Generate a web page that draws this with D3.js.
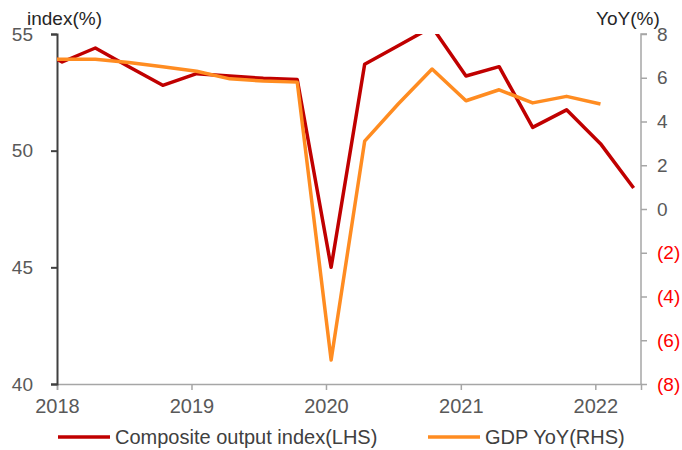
<!DOCTYPE html>
<html>
<head>
<meta charset="utf-8">
<script src="https://cdn.jsdelivr.net/npm/d3@7"></script>
<style>
	body { margin: 0; background: #fff; }
	svg { font-family: 'Liberation Sans', Arial, sans-serif; }
</style>
</head>
<body>
<div id="chart"></div>
<script>
// quarterly observations (mid-month of each quarter's first month)
const quarters = [
	'2017-10-15',
	'2018-01-15', '2018-04-15', '2018-07-15', '2018-10-15',
	'2019-01-15', '2019-04-15', '2019-07-15', '2019-10-15',
	'2020-01-15', '2020-04-15', '2020-07-15', '2020-10-15',
	'2021-01-15', '2021-04-15', '2021-07-15', '2021-10-15',
	'2022-01-15', '2022-04-15'
];

// Composite output index (LHS)
const composite = [54.6, 53.8, 54.4, 53.6, 52.8, 53.3, 53.2, 53.1, 53.05, 45.0, 53.7, 54.5, 55.3, 53.2, 53.6, 51.0, 51.75, 50.3, 48.4];

// GDP YoY (RHS)
const gdp = [6.8, 6.85, 6.85, 6.7, 6.5, 6.3, 5.95, 5.85, 5.8, -6.9, 3.1, 4.8, 6.4, 4.95, 5.45, 4.85, 5.15, 4.8];

const leftTicks = [40, 45, 50, 55];
const rightTicks = [-8, -6, -4, -2, 0, 2, 4, 6, 8];
const yearTicks = [2018, 2019, 2020, 2021, 2022];

const seriesNames = ['Composite output index(LHS)', 'GDP YoY(RHS)'];
const colors = ['#C00000', '#FF8C21'];

//
//
//
const width = 682;
const height = 450;
const plot = { left: 57, right: 641, top: 34, bottom: 384 };
const fontSize = 19;

const parse = d3.timeParse('%Y-%m-%d');
const dates = quarters.map(parse);

const x = d3.scaleTime()
	.domain([new Date(2018, 0, 1), new Date(2022, 4, 5)])
	.range([plot.left, plot.right]);

const yLeft = d3.scaleLinear().domain([40, 55]).range([plot.bottom, plot.top]);
const yRight = d3.scaleLinear().domain([-8, 8]).range([plot.bottom, plot.top]);

const svg = d3.select('#chart').append('svg')
	.attr('width', width)
	.attr('height', height);

svg.append('clipPath').attr('id', 'clip')
	.append('rect')
	.attr('x', plot.left).attr('y', plot.top)
	.attr('width', plot.right - plot.left)
	.attr('height', plot.bottom - plot.top);

//
// axes
//
const gx = svg.append('g')
	.attr('transform', `translate(0,${plot.bottom})`)
	.call(d3.axisBottom(x)
		.tickValues(yearTicks.map(y => new Date(y, 0, 1)))
		.tickFormat(d3.timeFormat('%Y'))
		.tickSize(6).tickPadding(9));

gx.select('.domain').attr('stroke', '#A6A6A6').attr('stroke-width', 1.5);
gx.selectAll('.tick line').attr('stroke', '#A6A6A6').attr('stroke-width', 1.5);
gx.selectAll('.tick text')
	.attr('fill', '#595959')
	.style('font-size', '20px')
	.style('font-family', null);

const gr = svg.append('g')
	.attr('transform', `translate(${plot.right},0)`)
	.call(d3.axisRight(yRight)
		.tickValues(rightTicks)
		.tickFormat(d => d < 0 ? `(${-d})` : d)
		.tickSize(6).tickPadding(10));

gr.select('.domain').attr('stroke', '#A6A6A6').attr('stroke-width', 1.5).attr('d', `M6,${plot.top}H0V${plot.bottom}`);
gr.selectAll('.tick line').attr('stroke', '#A6A6A6').attr('stroke-width', 1.5);
gr.selectAll('.tick text')
	.attr('fill', d => d < 0 ? '#FF0000' : '#595959')
	.style('font-size', fontSize + 'px')
	.style('font-family', null);

const gl = svg.append('g')
	.attr('transform', `translate(${plot.left},0)`)
	.call(d3.axisLeft(yLeft)
		.tickValues(leftTicks)
		.tickSize(6).tickPadding(18));

gl.select('.domain').attr('stroke', '#404040').attr('stroke-width', 2);
gl.selectAll('.tick line').attr('stroke', '#404040').attr('stroke-width', 2);
gl.selectAll('.tick text')
	.attr('fill', '#595959')
	.style('font-size', fontSize + 'px')
	.style('font-family', null);

// axis titles sit just above the top tick labels
svg.append('text')
	.attr('x', 27).attr('y', 25)
	.attr('fill', '#262626')
	.style('font-size', fontSize + 'px')
	.text('index(%)');

svg.append('text')
	.attr('x', 596).attr('y', 25)
	.attr('fill', '#262626')
	.style('font-size', fontSize + 'px')
	.text('YoY(%)');

//
// lines
//
const lines = svg.append('g').attr('clip-path', 'url(#clip)');

const lineLeft = d3.line()
	.x((d, i) => x(dates[i]))
	.y(d => yLeft(d));

const lineRight = d3.line()
	.x((d, i) => x(dates[i]))
	.y(d => yRight(d));

lines.append('path')
	.datum(composite)
	.attr('d', lineLeft)
	.attr('fill', 'none')
	.attr('stroke', colors[0])
	.attr('stroke-width', 3.5)
	.attr('stroke-linejoin', 'round');

lines.append('path')
	.datum(gdp)
	.attr('d', lineRight)
	.attr('fill', 'none')
	.attr('stroke', colors[1])
	.attr('stroke-width', 3.5)
	.attr('stroke-linejoin', 'round');

//
// legend
//
const legendX = [58, 428];
const legend = svg.selectAll('.legend')
	.data(seriesNames)
	.enter()
	.append('g')
	.attr('class', 'legend')
	.attr('transform', (d, i) => `translate(${legendX[i]},437)`);

legend.append('line')
	.attr('x1', 0).attr('x2', 52)
	.attr('stroke', (d, i) => colors[i])
	.attr('stroke-width', 3.5);

legend.append('text')
	.attr('x', 57).attr('y', 7)
	.attr('fill', '#404040')
	.style('font-size', '20px')
	.text(d => d);
</script>
</body>
</html>
